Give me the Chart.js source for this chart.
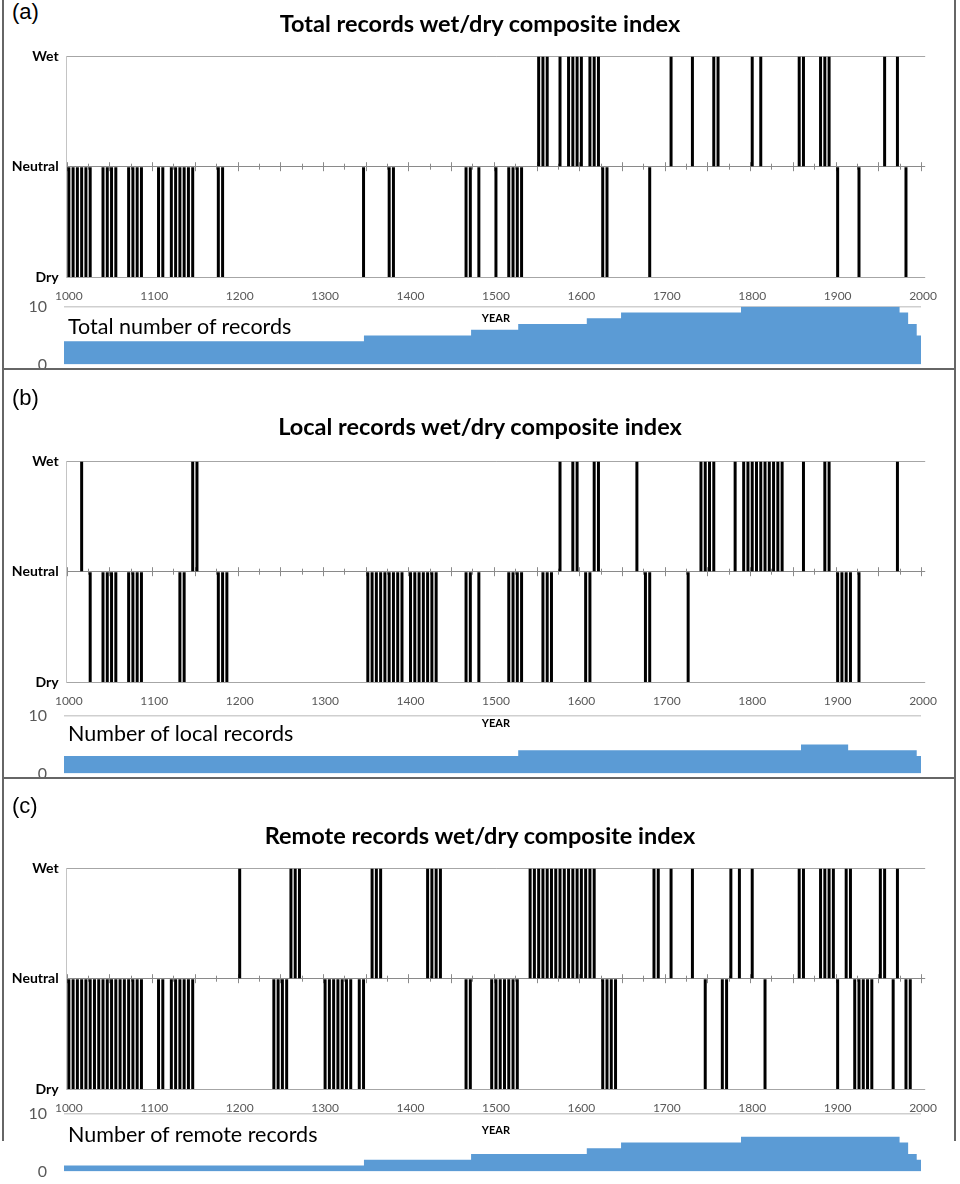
<!DOCTYPE html>
<html>
<head>
<meta charset="utf-8">
<title>Wet/dry composite index</title>
<script src="https://cdn.jsdelivr.net/npm/chart.js@4.4.1/dist/chart.umd.min.js"></script>
<style>
  html, body { margin: 0; padding: 0; background: #fff; }
  #page { position: relative; width: 960px; height: 1184px; overflow: hidden; font-family: Lato, "Open Sans", sans-serif; color: #000; }
  #page canvas { position: absolute; left: 0; }
  .txt { position: absolute; white-space: nowrap; }
  .letter { left: 12px; font-family: "Liberation Sans", Arial, sans-serif; font-size: 22px; line-height: 26px; }
  .title { left: 0; width: 960px; text-align: center; font-weight: bold; font-size: 23.5px; line-height: 28px; }
  .count { left: 68px; font-size: 21.5px; line-height: 24px; }
  .rule { position: absolute; background: #666; }
</style>
</head>
<body>
<div id="page">
  <canvas id="areaA" width="960" height="111" style="top:280px"></canvas>
  <canvas id="areaB" width="960" height="111" style="top:689px"></canvas>
  <canvas id="areaC" width="960" height="111" style="top:1087px"></canvas>
  <canvas id="barsA" width="960" height="285" style="top:40px"></canvas>
  <canvas id="barsB" width="960" height="285" style="top:445px"></canvas>
  <canvas id="barsC" width="960" height="285" style="top:852px"></canvas>

  <div class="txt letter" style="top:-1px">(a)</div>
  <div class="txt title" style="top:9px">Total records wet/dry composite index</div>
  <div class="txt count" style="top:314px">Total number of records</div>

  <div class="txt letter" style="top:385px">(b)</div>
  <div class="txt title" style="top:412px">Local records wet/dry composite index</div>
  <div class="txt count" style="top:721px">Number of local records</div>

  <div class="txt letter" style="top:793px">(c)</div>
  <div class="txt title" style="top:821px">Remote records wet/dry composite index</div>
  <div class="txt count" style="top:1122px">Number of remote records</div>

  <div class="rule" style="left:2px; top:0; width:2px; height:1141px"></div>
  <div class="rule" style="left:954px; top:0; width:2px; height:1141px"></div>
  <div class="rule" style="left:2px; top:368px; width:954px; height:2px"></div>
  <div class="rule" style="left:2px; top:777px; width:954px; height:2px"></div>
</div>

<script>
// --- DATA ---
// five-year categories on the index charts
const FIRST_YEAR = 1000;
const LAST_YEAR = 2000;
const YEAR_STEP = 5;
const indexNames = { '-1': 'Dry', '0': 'Neutral', '1': 'Wet' };

// (a) total records
const totalWet = [1550, 1555, 1560, 1575, 1585, 1590, 1595, 1600, 1610, 1615, 1620, 1705, 1730, 1755, 1760,
  1800, 1810, 1855, 1860, 1880, 1885, 1890, 1955, 1970];
const totalDry = [1000, 1005, 1010, 1015, 1020, 1025, 1040, 1045, 1050, 1055, 1070, 1075, 1080, 1085, 1105, 1110,
  1120, 1125, 1130, 1135, 1140, 1145, 1175, 1180, 1345, 1375, 1380, 1465, 1470, 1480, 1500, 1515, 1520, 1525,
  1530, 1625, 1630, 1680, 1900, 1925, 1980];
const totalStepYears = [1000, 1350, 1475, 1530, 1610, 1650, 1790, 1975, 1985, 1995, 2000];
const totalCounts = [4, 5, 6, 7, 8, 9, 10, 9, 7, 5, 5];

// (b) local records
const localWet = [1015, 1145, 1150, 1575, 1590, 1595, 1615, 1620, 1665, 1740, 1745, 1750, 1755, 1780, 1790, 1795,
  1800, 1805, 1810, 1815, 1820, 1825, 1830, 1835, 1860, 1885, 1890, 1970];
const localDry = [1025, 1040, 1045, 1050, 1055, 1070, 1075, 1080, 1085, 1130, 1135, 1175, 1180, 1185, 1350, 1355,
  1360, 1365, 1370, 1375, 1380, 1385, 1390, 1400, 1405, 1410, 1415, 1420, 1425, 1430, 1465, 1470, 1480, 1515,
  1520, 1525, 1530, 1555, 1560, 1565, 1605, 1610, 1675, 1680, 1725, 1900, 1905, 1910, 1915, 1925];
const localStepYears = [1000, 1530, 1860, 1915, 1995, 2000];
const localCounts = [3, 4, 5, 4, 3, 3];

// (c) remote records
const remoteWet = [1200, 1260, 1265, 1270, 1355, 1360, 1365, 1420, 1425, 1430, 1435, 1540, 1545, 1550, 1555, 1560,
  1565, 1570, 1575, 1580, 1585, 1590, 1595, 1600, 1605, 1610, 1615, 1685, 1690, 1705, 1730, 1775, 1785, 1800,
  1855, 1860, 1880, 1885, 1890, 1895, 1910, 1915, 1950, 1955, 1970];
const remoteDry = [1000, 1005, 1010, 1015, 1020, 1025, 1030, 1035, 1040, 1045, 1050, 1055, 1060, 1065, 1070, 1075,
  1080, 1085, 1105, 1110, 1120, 1125, 1130, 1135, 1140, 1145, 1240, 1245, 1250, 1255, 1300, 1305, 1310, 1315,
  1320, 1325, 1330, 1340, 1345, 1465, 1470, 1495, 1500, 1505, 1510, 1515, 1520, 1525, 1625, 1630, 1635, 1640,
  1745, 1765, 1770, 1815, 1900, 1920, 1925, 1930, 1935, 1940, 1965, 1980, 1985];
const remoteStepYears = [1000, 1350, 1475, 1610, 1650, 1790, 1975, 1985, 1995, 2000];
const remoteCounts = [1, 2, 3, 4, 5, 6, 5, 3, 2, 2];

// --- HELPERS ---
const yearLabels = [];
for (let y = FIRST_YEAR; y <= LAST_YEAR; y += YEAR_STEP) yearLabels.push(y);

function indexSeries(wet, dry) {
  return yearLabels.map(y => wet.includes(y) ? 1 : (dry.includes(y) ? -1 : null));
}

function stepPoints(years, counts) {
  return years.map((y, i) => ({ x: y, y: counts[i] }));
}

// little crossing ticks along the Neutral line
const neutralTicks = {
  id: 'neutralTicks',
  beforeDatasetsDraw(chart) {
    const xs = chart.scales.x;
    const y0 = chart.scales.y.getPixelForValue(0);
    const half = (xs.getPixelForValue(1) - xs.getPixelForValue(0)) / 2;
    const ctx = chart.ctx;
    ctx.save();
    ctx.strokeStyle = '#8a8a8a';
    ctx.lineWidth = 1;
    for (let i = 0; i < yearLabels.length; i += 5) {
      const x = Math.round(xs.getPixelForValue(i) - half) + 0.5;
      const len = i % 10 === 0 ? 4.5 : 3;
      ctx.beginPath();
      ctx.moveTo(x, y0 - len);
      ctx.lineTo(x, y0 + len);
      ctx.stroke();
    }
    ctx.restore();
  }
};

function makeIndexChart(canvasId, wet, dry) {
  return new Chart(document.getElementById(canvasId), {
    type: 'bar',
    data: {
      labels: yearLabels,
      datasets: [{
        data: indexSeries(wet, dry),
        backgroundColor: '#000',
        borderWidth: 0,
        barPercentage: 0.7,
        categoryPercentage: 1
      }]
    },
    options: {
      responsive: false,
      animation: false,
      events: [],
      layout: { padding: { top: 9, right: 34.8, left: 0, bottom: 0 } },
      plugins: { legend: { display: false }, tooltip: { enabled: false } },
      scales: {
        x: {
          grid: { display: false, drawTicks: false },
          border: { display: false },
          ticks: {
            autoSkip: false, maxRotation: 0, minRotation: 0, padding: 12,
            color: '#595959', font: { family: 'Lato', size: 12 },
            callback: (v, i) => yearLabels[i] % 100 === 0 ? String(yearLabels[i]) : ''
          },
          title: {
            display: true, text: 'YEAR', color: '#000', padding: 0,
            font: { family: 'Lato', size: 11, weight: 'bold' }
          },
          afterFit: s => { s.height = 48; }
        },
        y: {
          min: -1, max: 1,
          ticks: {
            stepSize: 1, padding: 8, color: '#000',
            font: { family: 'Lato', size: 14, weight: 'bold' },
            callback: v => indexNames[String(v)]
          },
          grid: {
            drawTicks: false,
            color: c => c.tick && c.tick.value === 0 ? '#8a8a8a' : '#a6a6a6'
          },
          border: { color: '#c4c4c4' },
          afterFit: s => { s.width = 66.7; }
        }
      }
    },
    plugins: [neutralTicks]
  });
}

function makeCountChart(canvasId, years, counts) {
  return new Chart(document.getElementById(canvasId), {
    type: 'line',
    data: {
      datasets: [{
        data: stepPoints(years, counts),
        stepped: true,
        fill: 'origin',
        backgroundColor: '#5b9bd5',
        borderWidth: 0,
        pointRadius: 0
      }]
    },
    options: {
      responsive: false,
      animation: false,
      events: [],
      layout: { padding: { top: 10, right: 39, left: 0, bottom: 10 } },
      plugins: { legend: { display: false }, tooltip: { enabled: false } },
      scales: {
        x: { type: 'linear', min: FIRST_YEAR, max: LAST_YEAR, display: false },
        y: {
          min: 0, max: 10,
          ticks: { stepSize: 10, padding: 17, color: '#595959', font: { family: 'Lato', size: 16 } },
          grid: {
            drawTicks: false, lineWidth: 1.5,
            color: c => c.tick && c.tick.value === 10 ? '#cfcfcf' : 'rgba(0,0,0,0)'
          },
          border: { display: false },
          afterFit: s => { s.width = 64; }
        }
      }
    }
  });
}

// --- DRAW ---
makeCountChart('areaA', totalStepYears, totalCounts);
makeCountChart('areaB', localStepYears, localCounts);
makeCountChart('areaC', remoteStepYears, remoteCounts);
makeIndexChart('barsA', totalWet, totalDry);
makeIndexChart('barsB', localWet, localDry);
makeIndexChart('barsC', remoteWet, remoteDry);
</script>
</body>
</html>
